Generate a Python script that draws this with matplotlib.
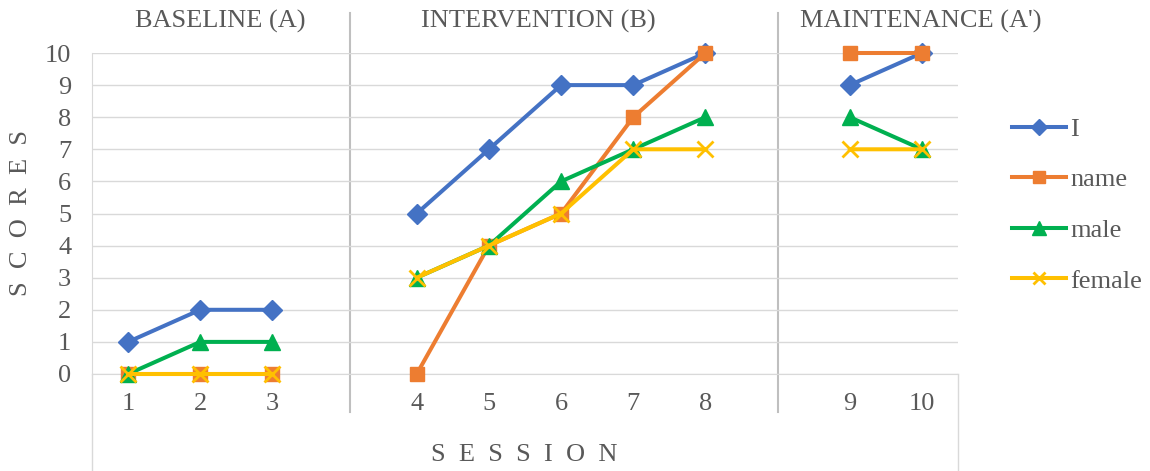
import numpy as np
import matplotlib.pyplot as plt
from matplotlib.lines import Line2D

# session slots; blank slots separate the phases
sessions = ['1', '2', '3', '', '4', '5', '6', '7', '8', '', '9', '10']
nan = np.nan
score_I = [1, 2, 2, nan, 5, 7, 9, 9, 10, nan, 9, 10]
score_name = [0, 0, 0, nan, 0, 4, 5, 8, 10, nan, 10, 10]
score_male = [0, 1, 1, nan, 3, 4, 6, 7, 8, nan, 8, 7]
score_female = [0, 0, 0, nan, 3, 4, 5, 7, 7, nan, 7, 7]

phase_names = ['BASELINE (A)', 'INTERVENTION (B)', "MAINTENANCE (A')"]
phase_label_x = [1.28, 5.69, 10.99]
phase_breaks = [3.07, 9.0]

series = [
    ('I', score_I, '#4472C4', 'D', 10),
    ('name', score_name, '#ED7D31', 's', 10.5),
    ('male', score_male, '#00B050', '^', 11.5),
    ('female', score_female, '#FFC000', 'x', 11),
]

plt.rcParams['font.family'] = ['Liberation Serif', 'DejaVu Serif']
txt_col = '#595959'
grid_col = '#d9d9d9'
fs = 19

def spaced(word):
    # letter-spaced axis title, en space between letters
    return '\u2002'.join(word)

fig = plt.figure(figsize=(11.5, 4.71), dpi=100)
ax = fig.add_axes([92/1150, 1-374/471, (958-92)/1150, (374-53)/471])

x = np.arange(len(sessions))
handles = []
for name, vals, col, mk, ms in series:
    mew = 2 if mk == 'x' else 1
    ax.plot(x, vals, color=col, lw=2.9, marker=mk, markersize=ms,
            markeredgewidth=mew, markeredgecolor=col, zorder=3, clip_on=False)
    handles.append(Line2D([], [], color=col, lw=2.9, marker=mk, markersize=ms * 0.85,
                          markeredgewidth=mew))

ax.set_xlim(-0.5, len(sessions) - 0.5)
ax.set_ylim(0, 10)
ax.set_yticks(range(0, 11))
ax.set_xticks(x)
ax.set_xticklabels(sessions)
ax.tick_params(axis='y', length=0, pad=15, labelsize=fs, labelcolor=txt_col)
ax.tick_params(axis='x', length=0, pad=14, labelsize=fs, labelcolor=txt_col)
ax.grid(axis='y', color=grid_col, lw=1, zorder=0)
for s in ['top', 'right']:
    ax.spines[s].set_visible(False)
ax.spines['bottom'].set_color(grid_col)
ax.spines['left'].set_color(grid_col)

# axis extension lines (category area box)
ax.plot([-0.5, -0.5], [0, -3.0], color=grid_col, lw=1, clip_on=False)
ax.plot([11.5, 11.5], [0, -3.0], color=grid_col, lw=1, clip_on=False)

# phase separators
for b in phase_breaks:
    ax.plot([b, b], [11.25, -1.18], color='#bfbfbf', lw=1.5, clip_on=False, zorder=1)

for lab, px in zip(phase_names, phase_label_x):
    ax.text(px, 10.97, lab, ha='center', va='center', fontsize=fs, color=txt_col)

fig.text(21/1150, 1-213/471, spaced('SCORES'), rotation=90, ha='center', va='center',
         fontsize=fs, color=txt_col)
fig.text(524/1150, 1-455/471, spaced('SESSION'), ha='center', va='center',
         fontsize=fs, color=txt_col)

leg = fig.legend(handles, [s[0] for s in series], loc='center left',
                 bbox_to_anchor=(1012/1150, 1-205/471), frameon=False,
                 borderpad=0, borderaxespad=0,
                 fontsize=fs, labelspacing=1.03, handlelength=2.05, handletextpad=0.15)
for t in leg.get_texts():
    t.set_color(txt_col)

fig.savefig('out.png', dpi=100)
